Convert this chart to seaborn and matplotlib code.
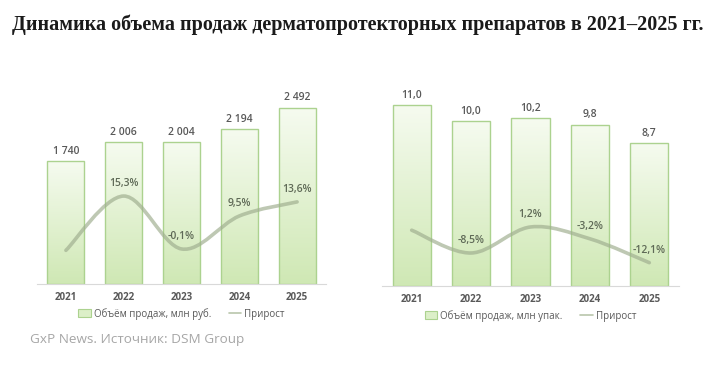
import matplotlib
matplotlib.use('Agg')
import matplotlib.pyplot as plt
import seaborn as sns
import numpy as np
from matplotlib.path import Path
from matplotlib.patches import PathPatch, Patch
from matplotlib.lines import Line2D
from matplotlib.colors import LinearSegmentedColormap

### data
years = ['2021', '2022', '2023', '2024', '2025']

sales_rub = [1740, 2006, 2004, 2194, 2492]
sales_rub_labels = ['1 740', '2 006', '2 004', '2 194', '2 492']
growth_rub = [-0.5, 15.3, -0.1, 9.5, 13.6]
growth_rub_labels = [None, '15,3%', '-0,1%', '9,5%', '13,6%']

sales_pack = [11.0, 10.0, 10.2, 9.8, 8.7]
sales_pack_labels = ['11,0', '10,0', '10,2', '9,8', '8,7']
growth_pack = [0.0, -8.5, 1.2, -3.2, -12.1]
growth_pack_labels = [None, '-8,5%', '1,2%', '-3,2%', '-12,1%']

legend_rub = 'Объём продаж, млн руб.'
legend_pack = 'Объём продаж, млн упак.'
legend_growth = 'Прирост'
title = 'Динамика объема продаж дерматопротекторных препаратов в 2021–2025 гг.'
source = 'GxP News. Источник: DSM Group'

### style
sns.set_style('white')
plt.rcParams['font.family'] = ['Open Sans', 'DejaVu Sans']

BAR_EDGE = '#acd28f'
LINE_COLOR = '#9fae8f'
LABEL_COLOR = '#595959'
PCT_COLOR = '#5f6a57'
grad_cmap = LinearSegmentedColormap.from_list('g', ['#cfe8b4', '#f6fbf0'])


def smooth_path(xs, ys):
    """Catmull-Rom style bezier through the points (like Excel smoothed line)."""
    pts = np.column_stack([xs, ys]).astype(float)
    ext = np.vstack([pts[0], pts, pts[-1]])
    verts, codes = [pts[0]], [Path.MOVETO]
    for i in range(len(pts) - 1):
        p0, p1, p2, p3 = ext[i], ext[i + 1], ext[i + 2], ext[i + 3]
        verts += [p1 + (p2 - p0) / 6, p2 - (p3 - p1) / 6, p2]
        codes += [Path.CURVE4] * 3
    return Path(verts, codes)


def draw_panel(ax, values, value_labels, growth, growth_labels, ylim, ylim2, legend_text):
    sns.barplot(x=years, y=values, ax=ax, width=0.64, color='#dcefc8',
                saturation=1, edgecolor=BAR_EDGE, linewidth=1)
    grad = np.linspace(0, 1, 256).reshape(-1, 1)
    for bar in ax.patches:
        x, w, h = bar.get_x(), bar.get_width(), bar.get_height()
        im = ax.imshow(grad, cmap=grad_cmap, origin='lower', aspect='auto',
                       extent=[x, x + w, 0, h], zorder=0.5)
        im.set_clip_path(bar)
        bar.set_facecolor('none')
        bar.set_zorder(1)
    for i, (v, lab) in enumerate(zip(values, value_labels)):
        ax.annotate(lab, (i, v), xytext=(0, 7), textcoords='offset points',
                    ha='center', va='center', fontsize=7.5, color=LABEL_COLOR,
                    fontweight='semibold')
    ax.set_xlim(-0.5, 4.5)
    ax.set_ylim(*ylim)
    ax.set_yticks([])
    ax.set_xlabel('')
    ax.set_ylabel('')
    ax.tick_params(axis='x', length=0, pad=6, labelsize=7, labelcolor=LABEL_COLOR)
    for lbl in ax.get_xticklabels():
        lbl.set_fontweight('bold')
    for s in ['top', 'left', 'right']:
        ax.spines[s].set_visible(False)
    ax.spines['bottom'].set_color('#d9d9d9')

    ax2 = ax.twinx()
    ax2.add_patch(PathPatch(smooth_path(range(len(years)), growth), facecolor='none',
                            edgecolor=LINE_COLOR, lw=2.6, alpha=0.68, capstyle='round'))
    for i, (g, lab) in enumerate(zip(growth, growth_labels)):
        if lab:
            ax2.annotate(lab, (i, g), xytext=(0, 9), textcoords='offset points',
                         ha='center', va='center', fontsize=7.5, color=PCT_COLOR,
                         fontweight='semibold')
    ax2.set_ylim(*ylim2)
    ax2.set_yticks([])
    for s in ax2.spines.values():
        s.set_visible(False)

    handles = [Patch(facecolor='#dcefc8', edgecolor=BAR_EDGE, lw=0.8),
               Line2D([0], [0], color='#b9c6ab', lw=1.2)]
    ax.legend(handles, [legend_text, legend_growth], loc='center',
              bbox_to_anchor=(0.5, -0.155), ncol=2, frameon=False, fontsize=7,
              handlelength=1.3, handleheight=0.8, handletextpad=0.3,
              columnspacing=1.8, labelcolor=LABEL_COLOR)


fig = plt.figure(figsize=(7.19, 3.66), dpi=100)
W, H = 719, 366
ax_left = fig.add_axes([37 / W, (H - 284) / H, 289 / W, 191 / H])
ax_right = fig.add_axes([382 / W, (H - 286) / H, 297 / W, 191 / H])

draw_panel(ax_left, sales_rub, sales_rub_labels, growth_rub, growth_rub_labels,
           (0, 2700), (-10.3, 45.3), legend_rub)
draw_panel(ax_right, sales_pack, sales_pack_labels, growth_pack, growth_pack_labels,
           (0, 11.6), (-20.8, 50.4), legend_pack)

fig.text(12 / W, 1 - 25 / H, title, ha='left', va='center', fontsize=14.5,
         fontweight='bold', family=['Liberation Serif', 'DejaVu Serif'], color='#1a1a1a')
fig.text(30 / W, 1 - 340 / H, source, ha='left', va='center', fontsize=9.7,
         color='#a6a6a6')

fig.savefig('out.png', dpi=100)
